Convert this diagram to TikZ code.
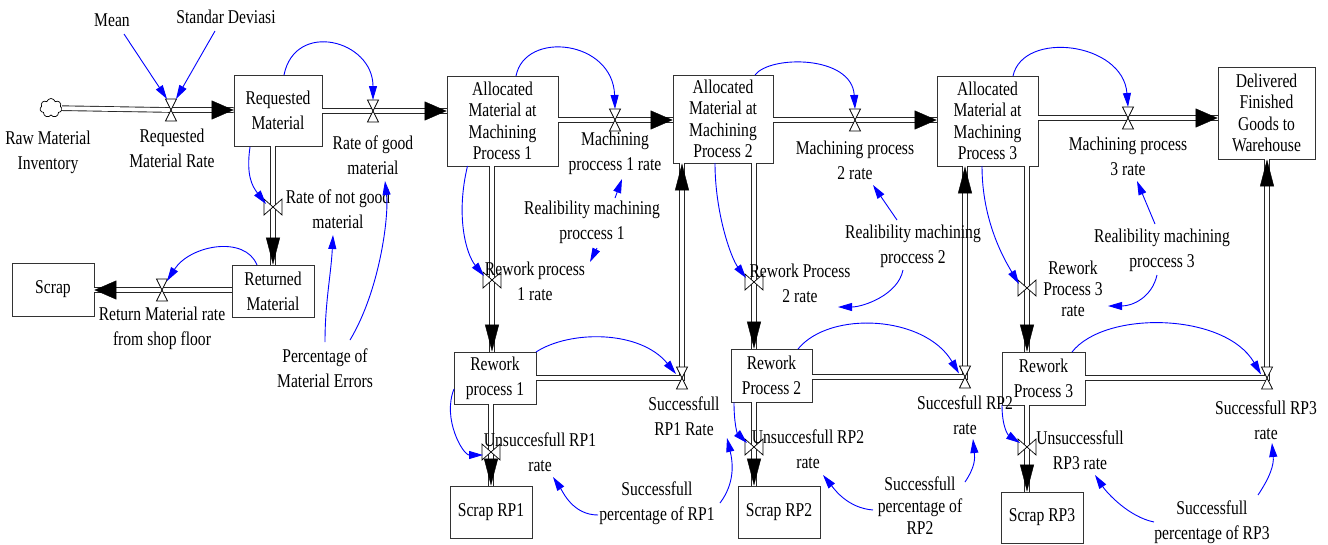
\documentclass[tikz,border=0pt]{standalone}
\usepackage{fontspec}
\setmainfont{Liberation Serif}[FakeStretch=0.8]
\usetikzlibrary{arrows.meta,calc,shapes.symbols}
\begin{document}
\begin{tikzpicture}[x=1pt,y=-1pt,
  every node/.style={font=\fontsize{19.5}{25}\selectfont},
  box/.style={draw=black!80, line width=0.8pt, fill=white, align=center, inner sep=1pt},
  tallbox/.style={box, font=\fontsize{19.5}{21.5}\selectfont},
  lbl/.style={align=center, inner sep=1pt},
  pipe/.style={draw=black!85, line width=0.9pt, double=white, double distance=3.8pt},
  tiph/.style={draw=white, line width=3.8pt, -{Triangle[length=22pt,width=19pt,line width=0.4pt,color=black,fill=black]}},
  tipv/.style={draw=white, line width=3.8pt, -{Triangle[length=27pt,width=14pt,line width=0.4pt,color=black,fill=black]}},
  infl/.style={draw=blue, line width=0.9pt, -{Triangle[length=14pt,width=8pt]}},
  vh/.style={inner sep=0pt, minimum width=11pt, minimum height=22pt},
  vv/.style={inner sep=0pt, minimum width=18pt, minimum height=16pt},
  hvalve/.pic={\draw[fill=white,line width=0.7pt] (-5.5,-11) -- (5.5,-11) -- (-5.5,11) -- (5.5,11) -- cycle;},
  vvalve/.pic={\draw[fill=white,line width=0.7pt] (-9,-8) -- (-9,8) -- (9,-8) -- (9,8) -- cycle;}
]
\useasboundingbox (0,0) rectangle (1328,544);

% ---------- stocks ----------
\node[box, minimum width=88pt, minimum height=71pt] (reqmat) at (278,110.5) {Requested\\Material};
\node[tallbox, minimum width=111pt, minimum height=90pt] (alloc1) at (502.5,121) {Allocated\\Material at\\Machining\\Process 1};
\node[tallbox, minimum width=100pt, minimum height=88pt] (alloc2) at (723,119) {Allocated\\Material at\\Machining\\Process 2};
\node[tallbox, minimum width=101pt, minimum height=90pt] (alloc3) at (987.5,121) {Allocated\\Material at\\Machining\\Process 3};
\node[tallbox, minimum width=97pt, minimum height=92pt] (deliv) at (1266.5,113) {Delivered\\Finished\\Goods to\\Warehouse};
\node[box, minimum width=82pt, minimum height=53pt] (scrap) at (53,289.5) {Scrap};
\node[box, minimum width=82pt, minimum height=52pt] (retmat) at (273,291) {Returned\\Material};
\node[box, minimum width=82pt, minimum height=52pt] (rw1) at (495,378) {Rework\\process 1};
\node[box, minimum width=81pt, minimum height=53pt] (rw2) at (771.5,375.5) {Rework\\Process 2};
\node[box, minimum width=83pt, minimum height=53pt] (rw3) at (1043.5,378.5) {Rework\\Process 3};
\node[box, minimum width=82pt, minimum height=52pt] (srp1) at (491,512) {Scrap RP1};
\node[box, minimum width=82pt, minimum height=52pt] (srp2) at (779,512) {Scrap RP2};
\node[box, minimum width=82pt, minimum height=51pt] (srp3) at (1042,517.5) {Scrap RP3};

\node[cloud, cloud puffs=7, draw, line width=0.7pt, minimum width=22pt, minimum height=19pt, inner sep=0pt, aspect=1.15] (raw) at (51,108) {};

% ---------- valves ----------
\node[vh] (v1) at (171,110) {};
\node[vh] (v2) at (373,111) {};
\node[vh] (v3) at (615,120) {};
\node[vh] (v4) at (855,120) {};
\node[vh] (v5) at (1128,118) {};
\node[vv] (v6) at (273,207) {};
\node[vh] (v7) at (162,290) {};
\node[vv] (v8) at (492,280) {};
\node[vh] (v9) at (682,378) {};
\node[vv] (v10) at (491,452) {};
\node[vv] (v11) at (754,282) {};
\node[vh] (v12) at (965,377) {};
\node[vv] (v13) at (754,447) {};
\node[vv] (v14) at (1027,288) {};
\node[vh] (v15) at (1267,378) {};
\node[vv] (v16) at (1027,447) {};

% ---------- pipes ----------
\draw[pipe] (raw) -- (v1.center) -- (reqmat.west |- v1.center);
\draw[pipe] (reqmat.east |- v2.center) -- (v2.center) -- (alloc1.west |- v2.center);
\draw[pipe] (alloc1.east |- v3.center) -- (v3.center) -- (alloc2.west |- v3.center);
\draw[pipe] (alloc2.east |- v4.center) -- (v4.center) -- (alloc3.west |- v4.center);
\draw[pipe] (alloc3.east |- v5.center) -- (v5.center) -- (deliv.west |- v5.center);
\draw[pipe] (v6.center |- reqmat.south) -- (v6.center) -- (v6.center |- retmat.north);
\draw[pipe] (retmat.west |- v7.center) -- (v7.center) -- (scrap.east |- v7.center);
\draw[pipe] (v8.center |- alloc1.south) -- (v8.center) -- (v8.center |- rw1.north);
\draw[pipe] (rw1.east |- v9.center) -- (v9.center) -- (v9.center |- alloc2.south);
\draw[pipe] (v10.center |- rw1.south) -- (v10.center) -- (v10.center |- srp1.north);
\draw[pipe] (v11.center |- alloc2.south) -- (v11.center) -- (v11.center |- rw2.north);
\draw[pipe] (rw2.east |- v12.center) -- (v12.center) -- (v12.center |- alloc3.south);
\draw[pipe] (v13.center |- rw2.south) -- (v13.center) -- (v13.center |- srp2.north);
\draw[pipe] (v14.center |- alloc3.south) -- (v14.center) -- (v14.center |- rw3.north);
\draw[pipe] (rw3.east |- v15.center) -- (v15.center) -- (v15.center |- deliv.south);
\draw[pipe] (v16.center |- rw3.south) -- (v16.center) -- (v16.center |- srp3.north);

% ---------- flow arrow heads ----------
\draw[tiph] (v1.center) -- (reqmat.west |- v1.center);
\draw[tiph] (v2.center) -- (alloc1.west |- v2.center);
\draw[tiph] (v3.center) -- (alloc2.west |- v3.center);
\draw[tiph] (v4.center) -- (alloc3.west |- v4.center);
\draw[tiph] (v5.center) -- (deliv.west |- v5.center);
\draw[tipv] (v6.center) -- (v6.center |- retmat.north);
\draw[tiph] (v7.center) -- (scrap.east |- v7.center);
\draw[tipv] (v8.center) -- (v8.center |- rw1.north);
\draw[tipv] (v9.center) -- (v9.center |- alloc2.south);
\draw[tipv] (v10.center) -- (v10.center |- srp1.north);
\draw[tipv] (v11.center) -- (v11.center |- rw2.north);
\draw[tipv] (v12.center) -- (v12.center |- alloc3.south);
\draw[tipv] (v13.center) -- (v13.center |- srp2.north);
\draw[tipv] (v14.center) -- (v14.center |- rw3.north);
\draw[tipv] (v15.center) -- (v15.center |- deliv.south);
\draw[tipv] (v16.center) -- (v16.center |- srp3.north);

\foreach \v in {v1,v2,v3,v4,v5,v7,v9,v12,v15} \pic at (\v) {hvalve};
\foreach \v in {v6,v8,v10,v11,v13,v14,v16} \pic at (\v) {vvalve};

% ---------- labels ----------
\node[lbl] (rawl) at (48,152) {Raw Material\\Inventory};
\node[lbl] (rmrl) at (172,148) {Requested\\Material Rate};
\node[lbl] (mean) at (112,20) {Mean};
\node[lbl] (sd) at (226,17) {Standar Deviasi};
\node[lbl] (rgl) at (373,155) {Rate of good\\material};
\node[lbl] (rngl) at (338,209) {Rate of not good\\material};
\node[lbl] (rmfl) at (162,328) {Return Material rate\\from shop floor};
\node[lbl] (pctme) at (325,368) {Percentage of\\Material Errors};
\node[lbl] (mp1l) at (615,153) {Machining\\proccess 1 rate};
\node[lbl] (rel1) at (592,222) {Realibility machining\\proccess 1};
\node[lbl] (rwp1l) at (535,281) {Rework process\\1 rate};
\node[lbl] (sr1l) at (684,416) {Successfull\\RP1 Rate};
\node[lbl] (unsrp1l) at (540,452) {Unsuccesfull RP1\\rate};
\node[lbl] (sp1l) at (657,503) {Successfull\\percentage of RP1};
\node[lbl] (mp2l) at (855,160) {Machining process\\2 rate};
\node[lbl] (rel2) at (913,246) {Realibility machining\\proccess 2};
\node[lbl] (rwp2l) at (800,283) {Rework Process\\2 rate};
\node[lbl] (sr2l) at (965,415) {Succesfull RP2\\rate};
\node[lbl] (unsrp2l) at (808,449) {Unsuccesfull RP2\\rate};
\node[lbl, font=\fontsize{19.5}{22}\selectfont] (sp2l) at (920,506) {Successfull\\percentage of\\RP2};
\node[lbl] (mp3l) at (1128,156) {Machining process\\3 rate};
\node[lbl] (rel3) at (1162,250) {Realibility machining\\proccess 3};
\node[lbl, font=\fontsize{19.5}{21}\selectfont] (rwp3l) at (1073,289) {Rework\\Process 3\\rate};
\node[lbl] (sr3l) at (1266,420) {Successfull RP3\\rate};
\node[lbl] (unsrp3l) at (1080,450) {Unsuccessfull\\RP3 rate};
\node[lbl] (sp3l) at (1212,522) {Successfull\\percentage of RP3};

% ---------- information links ----------
\draw[infl] ($(mean)+(12,14)$) -- ($(v1)+(-4,-11)$);
\draw[infl] ($(sd)+(-11,14)$) -- ($(v1)+(5,-11)$);
\draw[infl] ($(reqmat)+(6,-35.5)$) .. controls +(11,-55) and +(0,-60) .. ($(v2)+(0,-11)$);
\draw[infl] ($(reqmat)+(-28,36.5)$) .. controls +(-4,28) and +(-14,-18) .. ($(v6)+(-7,-3)$);
\draw[infl] ($(retmat)+(-16,-26)$) .. controls +(-12,-30) and +(23,-36) .. ($(v7)+(5,-9)$);
\draw[infl] ($(pctme)+(0,-26)$) .. controls +(0,-40) and +(-2,40) .. ($(rngl)+(-5,26)$);
\draw[infl] ($(pctme)+(25,-28)$) .. controls +(30,-50) and +(4,35) .. ($(rgl)+(12,26)$);

\draw[infl] ($(alloc1)+(13.5,-45)$) .. controls +(9,-46) and +(-2,-69) .. ($(v3)+(0,-11)$);
\draw[infl] ($(alloc1)+(-35,45)$) .. controls +(-12,50) and +(-18,-22) .. ($(v8)+(-8,-4)$);
\draw[infl] ($(rel1)+(23,-24)$) -- ($(mp1l)+(7,26)$);
\draw[infl] ($(rel1)+(5,26)$) -- ($(rwp1l)+(55,-19)$);
\draw[infl] ($(rw1)+(41,-26)$) .. controls +(34,-22) and +(-36,-44) .. ($(v9)+(-6,-4)$);
\draw[infl] ($(rw1)+(-41,11)$) .. controls +(-12,30) and +(-20,0) .. ($(v10)+(-8,3)$);
\draw[infl] ($(sp1l)+(-59,12)$) .. controls +(-25,0) and +(10,15) .. ($(unsrp1l)+(13,25)$);
\draw[infl] ($(sp1l)+(63,0)$) .. controls +(15,-20) and +(6,25) .. ($(sr1l)+(43,22)$);

\draw[infl] ($(alloc2)+(32,-44)$) .. controls +(15,-20) and +(-3,-54) .. ($(v4)+(0,-11)$);
\draw[infl] ($(alloc2)+(-8,44)$) .. controls +(0,50) and +(-15,-20) .. ($(v11)+(-8,-4)$);
\draw[infl] ($(rel2)+(-16,-26)$) -- ($(mp2l)+(18,25)$);
\draw[infl] ($(rel2)+(-10,24)$) .. controls +(-5,25) and +(25,0) .. ($(rwp2l)+(38,24)$);
\draw[infl] ($(rw2)+(26.5,-26.5)$) .. controls +(32,-39) and +(-34,-58) .. ($(v12)+(-6,-3.5)$);
\draw[infl] ($(rw2)+(-37.5,27)$) .. controls +(0,20) and +(-10,-10) .. ($(v13)+(-7,-4)$);
\draw[infl] ($(sp2l)+(-47,4)$) .. controls +(-25,-2) and +(12,15) .. ($(unsrp2l)+(15,26)$);
\draw[infl] ($(sp2l)+(45,-24)$) .. controls +(10,-15) and +(2,20) .. ($(sr2l)+(8,24)$);

\draw[infl] ($(alloc3)+(25.5,-45)$) .. controls +(10,-46) and +(-5,-65) .. ($(v5)+(0,-11)$);
\draw[infl] ($(alloc3)+(-5.5,45)$) .. controls +(0,55) and +(-15,-25) .. ($(v14)+(-8,-4)$);
\draw[infl] ($(rel3)+(-7,-26)$) -- ($(mp3l)+(9,25)$);
\draw[infl] ($(rel3)+(-5,25)$) .. controls +(-5,22) and +(25,0) .. ($(rwp3l)+(35,17)$);
\draw[infl] ($(rw3)+(28.5,-26.5)$) .. controls +(33,-42) and +(-36,-62) .. ($(v15)+(-6,-3.5)$);
\draw[infl] ($(rw3)+(-41.5,26.5)$) .. controls +(0,22) and +(-12,-8) .. ($(v16)+(-7,-4)$);
\draw[infl] ($(sp3l)+(-58,0)$) .. controls +(-25,-5) and +(12,18) .. ($(unsrp3l)+(15,25)$);
\draw[infl] ($(sp3l)+(46,-27)$) .. controls +(12,-18) and +(2,22) .. ($(sr3l)+(6,23)$);
\end{tikzpicture}
\end{document}
